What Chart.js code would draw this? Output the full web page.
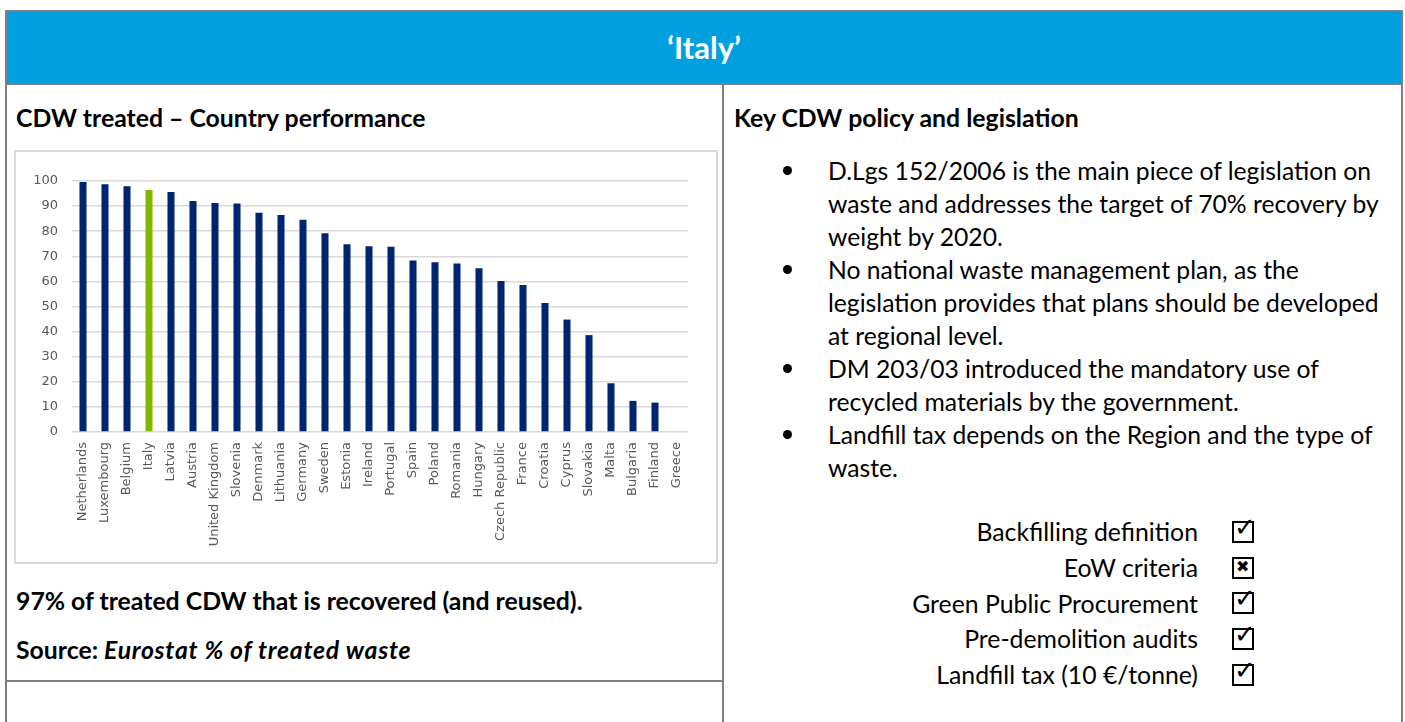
<!DOCTYPE html>
<html>
<head>
<meta charset="utf-8">
<title>Italy - CDW</title>
<script src="https://cdn.jsdelivr.net/npm/chart.js@4.4.1/dist/chart.umd.min.js"></script>
<style>
    html, body { margin: 0; padding: 0; background: #fff; }
    body { width: 1405px; height: 722px; overflow: hidden; position: relative; font-family: Lato, 'Noto Sans', sans-serif; color: #000; }
    .abs { position: absolute; }
    .frame { left: 5px; top: 10px; width: 1394px; height: 800px; border: 2px solid #7f7f7f; }
    .header { left: 7px; top: 12px; width: 1394px; height: 71px; background: #009fdf; border-bottom: 2px solid #7f7f7f; }
    .header h1 { margin: 0; line-height: 71px; text-align: center; color: #fff; font-size: 31px; font-weight: 700; }
    .vdiv { left: 722px; top: 84px; width: 2px; height: 700px; background: #7f7f7f; }
    .hdiv { left: 7px; top: 680px; width: 716px; height: 2px; background: #7f7f7f; }
    .title { font-weight: 700; font-size: 24.8px; line-height: 30px; white-space: nowrap; }
    .title i { letter-spacing: 0.7px; }
    .chartBox { left: 14px; top: 150px; width: 700px; height: 410px; border: 2px solid #dadada; }
    .chartBox canvas { display: block; }
    .policies { left: 780px; top: 153.5px; width: 620px; margin: 0; padding: 0; list-style: none; font-size: 24.7px; line-height: 33px; white-space: nowrap; }
    .policies li { position: relative; padding-left: 48px; }
    .policies li::before { content: ''; position: absolute; left: 3px; top: 12px; width: 9px; height: 9px; border-radius: 50%; background: #000; }
    .checks { left: 880px; top: 514px; width: 380px; font-size: 24.8px; line-height: 35.8px; }
    .checks .row { display: flex; justify-content: flex-end; align-items: center; height: 35.8px; }
    .checks .box { position: relative; width: 18px; height: 18px; border: 2.6px solid #000; margin-left: 34px; margin-right: 6px; }
    .checks .mark { position: absolute; font-family: 'DejaVu Sans', sans-serif; line-height: 1; color: #000; }
    .checks .yes { left: 0px; top: -9px; font-size: 26px; font-weight: 700; }
    .checks .no { left: 2px; top: 0px; font-size: 16px; font-weight: 700; }
</style>
</head>
<body>
<div class="abs frame"></div>
<div class="abs header"><h1>‘Italy’</h1></div>
<div class="abs vdiv"></div>
<div class="abs hdiv"></div>

<div class="abs title" style="left:16px; top:103px;">CDW treated – Country performance</div>
<div class="abs title" style="left:734px; top:103px;">Key CDW policy and legislation</div>

<div class="abs chartBox"><canvas id="cdwChart" width="700" height="410"></canvas></div>

<div class="abs title" style="left:16px; top:586px;">97% of treated CDW that is recovered (and reused).</div>
<div class="abs title" style="left:16px; top:635px;">Source: <i>Eurostat % of treated waste</i></div>

<ul class="abs policies" id="policyList"></ul>
<div class="abs checks" id="checkList"></div>

<script>
// Share of treated construction & demolition waste that is recovered, by country (%)
const countries = ['Netherlands', 'Luxembourg', 'Belgium', 'Italy', 'Latvia', 'Austria', 'United Kingdom',
    'Slovenia', 'Denmark', 'Lithuania', 'Germany', 'Sweden', 'Estonia', 'Ireland', 'Portugal', 'Spain',
    'Poland', 'Romania', 'Hungary', 'Czech Republic', 'France', 'Croatia', 'Cyprus', 'Slovakia', 'Malta',
    'Bulgaria', 'Finland', 'Greece'];
const recovered = [99.6, 98.7, 97.9, 96.4, 95.6, 92.0, 91.2, 91.0, 87.4, 86.5, 84.6, 79.2, 74.8, 74.0,
    73.8, 68.3, 67.6, 67.1, 65.2, 60.2, 58.6, 51.4, 44.8, 38.6, 19.4, 12.4, 11.7, 0.3];
const yTicks = [0, 10, 20, 30, 40, 50, 60, 70, 80, 90, 100];
const focusCountry = 'Italy';

// each bullet is kept as its printed lines
const policies = [
    ['D.Lgs 152/2006 is the main piece of legislation on', 'waste and addresses the target of 70% recovery by', 'weight by 2020.'],
    ['No national waste management plan, as the', 'legislation provides that plans should be developed', 'at regional level.'],
    ['DM 203/03 introduced the mandatory use of', 'recycled materials by the government.'],
    ['Landfill tax depends on the Region and the type of', 'waste.']
];
const checkItems = ['Backfilling definition', 'EoW criteria', 'Green Public Procurement', 'Pre-demolition audits', 'Landfill tax (10 €/tonne)'];
const checkStatus = [true, false, true, true, true];

document.addEventListener('DOMContentLoaded', () => {
    renderPolicies();
    renderChecks();
    renderChart();
});

function renderPolicies() {
    const list = document.getElementById('policyList');
    policies.forEach(lines => {
        const li = document.createElement('li');
        li.innerHTML = lines.join('<br>');
        list.appendChild(li);
    });
}

function renderChecks() {
    const wrap = document.getElementById('checkList');
    checkItems.forEach((label, i) => {
        const row = document.createElement('div');
        row.className = 'row';
        row.innerHTML = `<span>${label}</span><span class="box"><span class="mark ${checkStatus[i] ? 'yes' : 'no'}">${checkStatus[i] ? '✓' : '✖'}</span></span>`;
        wrap.appendChild(row);
    });
}

function renderChart() {
    const ctx = document.getElementById('cdwChart').getContext('2d');
    const barColors = countries.map(c => c === focusCountry ? '#7fba00' : '#002570');

    new Chart(ctx, {
        type: 'bar',
        data: {
            labels: countries,
            datasets: [{
                data: recovered,
                backgroundColor: barColors,
                borderWidth: 0,
                barPercentage: 0.32,
                categoryPercentage: 1
            }]
        },
        options: {
            responsive: false,
            animation: false,
            layout: { padding: { top: 29, right: 28, bottom: 0, left: 0 } },
            plugins: {
                legend: { display: false },
                tooltip: { enabled: false }
            },
            scales: {
                x: {
                    grid: { display: false, drawTicks: false },
                    border: { display: false },
                    ticks: {
                        autoSkip: false,
                        maxRotation: 90,
                        minRotation: 90,
                        padding: 10,
                        color: '#595959',
                        font: { family: 'DejaVu Sans', size: 13 }
                    },
                    afterFit: (scale) => { scale.height = 130; }
                },
                y: {
                    min: 0,
                    max: 100,
                    afterBuildTicks: (scale) => { scale.ticks = yTicks.map(v => ({ value: v })); },
                    grid: { color: '#d9d9d9', lineWidth: 1.5, drawTicks: false },
                    border: { display: false },
                    ticks: {
                        padding: 14,
                        color: '#595959',
                        font: { family: 'DejaVu Sans', size: 13 }
                    },
                    afterFit: (scale) => { scale.width = 56; }
                }
            }
        }
    });
}
</script>
</body>
</html>
